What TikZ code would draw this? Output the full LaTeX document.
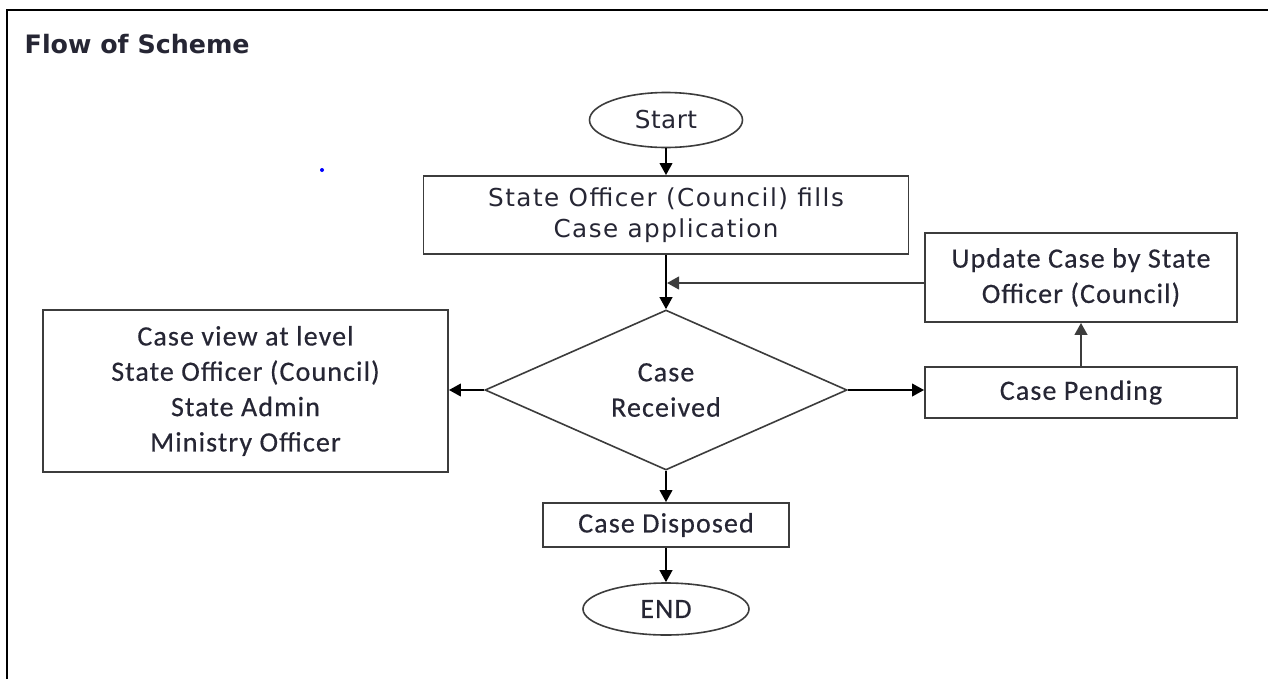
\documentclass[tikz,border=0pt]{standalone}
\usepackage{fontspec}
\usetikzlibrary{shapes.geometric,arrows.meta}
\newfontfamily\vfont[LetterSpace=6]{DejaVu Sans}
\newfontfamily\vfontb[LetterSpace=2]{DejaVu Sans}
\newfontfamily\vbold{DejaVu Sans Bold}
\newfontfamily\cfont[LetterSpace=4,FakeBold=0.4]{Carlito}
\definecolor{txt}{RGB}{38,38,52}
\definecolor{edge}{RGB}{60,60,60}
\tikzset{
  box/.style={draw=edge, line width=1.4pt, rectangle, inner sep=0pt, align=center, text=txt},
  term/.style={draw=edge, line width=1.2pt, ellipse, inner sep=0pt, align=center, text=txt},
  dec/.style={draw=edge, line width=1.2pt, diamond, inner sep=0pt, align=center, text=txt},
  vtext/.style={font=\vfont\fontsize{18.5}{23.25}\selectfont},
  ctext/.style={font=\cfont\fontsize{21}{26.5}\selectfont},
  flow/.style={draw=black, line width=1.4pt, -{Triangle[length=9pt,width=9.5pt]}},
  flowg/.style={draw=edge, line width=1.6pt, -{Triangle[length=9pt,width=9.5pt]}}
}
\begin{document}
\begin{tikzpicture}[x=0.75pt,y=-0.75pt]
\useasboundingbox (0,0) rectangle (1268,679);
\fill[white] (0,0) rectangle (1268,679);
\draw[line width=1.9pt] (7,679) -- (7,10) -- (1268,10);
\node[anchor=base west, text=txt, font=\vbold\fontsize{19}{23}\selectfont] (title) at (20,53) {Flow of Scheme};
\fill[blue] (322,170) circle (2);
\node[term, font=\vfontb\fontsize{18.5}{23.25}\selectfont, minimum width=114.75pt, minimum height=41.25pt] (start) at (666,120) {Start};
\node[box, vtext, minimum width=363.75pt, minimum height=58.5pt] (fill) at (666,215) {State Officer (Council) fills\\Case application};
\node[dec, ctext, minimum width=271.5pt, minimum height=120pt, aspect=2.26] (dia) at (666,390) {Case\\Received};
\node[box, ctext, minimum width=234pt, minimum height=66.75pt] (upd) at (1081,277.5) {Update Case by State\\Officer (Council)};
\node[box, ctext, minimum width=234pt, minimum height=38.25pt] (pend) at (1081,392.5) {Case Pending};
\node[box, ctext, minimum width=303.75pt, minimum height=121.5pt] (view) at (245.5,391) {Case view at level\\State Officer (Council)\\State Admin\\Ministry Officer};
\node[box, ctext, minimum width=184.5pt, minimum height=33pt] (disp) at (666,525) {Case Disposed};
\node[term, ctext, minimum width=124.5pt, minimum height=39pt] (end) at (666,609) {END};
\coordinate (fb) at (667,283);
\draw[flow] (start) -- (fill);
\draw[flow] (fill) -- (dia);
\draw[flowg] (upd.west |- fb) -- (fb);
\draw[flow] (dia.east) -- (pend.west |- dia.east);
\draw[flowg] (pend) -- (upd);
\draw[flow] (dia.west) -- (view.east |- dia.west);
\draw[flow] (dia) -- (disp);
\draw[flow] (disp) -- (end);
\end{tikzpicture}
\end{document}
